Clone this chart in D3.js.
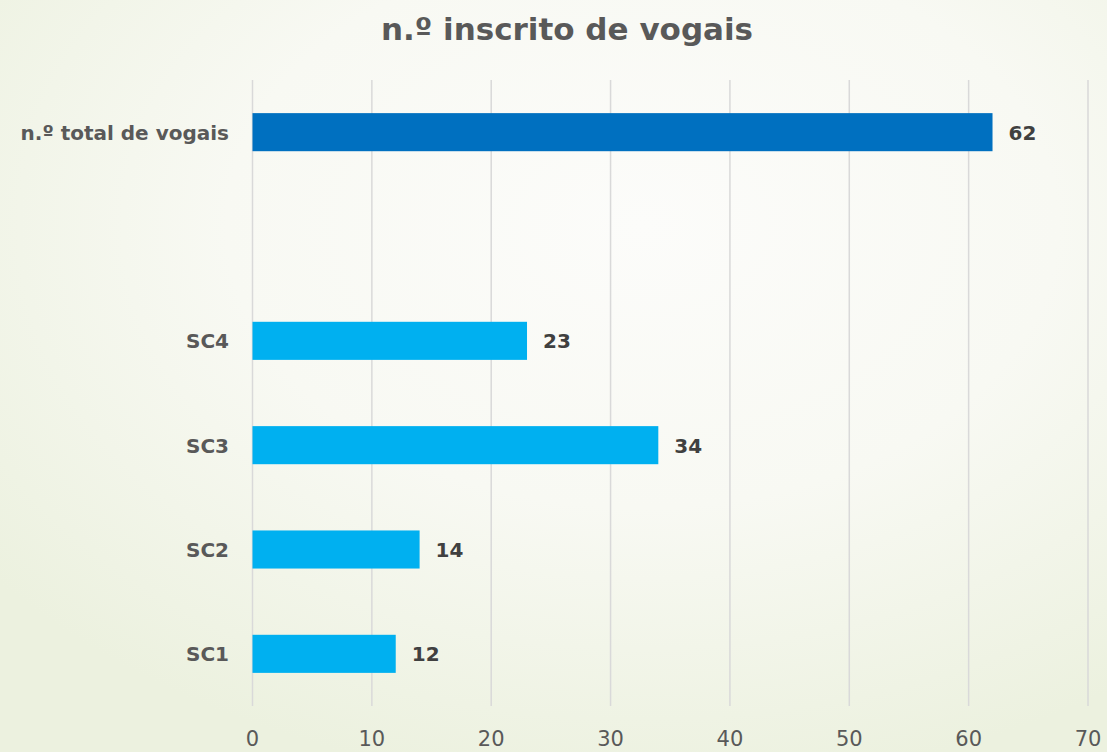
<!DOCTYPE html>
<html>
<head>
<meta charset="utf-8">
<script src="https://cdn.jsdelivr.net/npm/d3@7"></script>
<style>
  html, body { margin: 0; padding: 0; }
  body { width: 1107px; height: 752px; overflow: hidden; }
  svg { display: block; font-family: "DejaVu Sans", sans-serif; }
</style>
</head>
<body>
<svg></svg>
<script>
let width = 1107,
    height = 752;

// chart data
const categories = ["n.º total de vogais", "", "SC4", "SC3", "SC2", "SC1"];
const values = [62, null, 23, 34, 14, 12];
const barColors = ["#0070C0", null, "#00B0F0", "#00B0F0", "#00B0F0", "#00B0F0"];
const xTicks = [0, 10, 20, 30, 40, 50, 60, 70];
const title = "n.º inscrito de vogais";

let svg = d3.select("svg").attr("width", width).attr("height", height);

// background
let defs = svg.append("defs");
let grad = defs.append("radialGradient")
    .attr("id", "bg")
    .attr("cx", "58%").attr("cy", "30%").attr("r", "75%");
grad.append("stop").attr("offset", "0%").attr("stop-color", "#fcfcfa");
grad.append("stop").attr("offset", "50%").attr("stop-color", "#f8f9f3");
grad.append("stop").attr("offset", "100%").attr("stop-color", "#ecf1df");
svg.append("rect").attr("width", width).attr("height", height).attr("fill", "url(#bg)");

const margin = { top: 80, left: 252.5, right: 19, bottom: 46 };

let x = d3.scaleLinear()
    .domain([0, 70])
    .range([margin.left, width - margin.right]);

let y = d3.scaleBand()
    .domain(categories.map((d, i) => i))
    .range([margin.top, height - margin.bottom])
    .paddingInner(0.635)
    .paddingOuter(0.3175);

// gridlines
svg.append("g")
    .selectAll("line")
    .data(xTicks)
    .enter()
    .append("line")
    .attr("x1", (d) => x(d))
    .attr("x2", (d) => x(d))
    .attr("y1", margin.top)
    .attr("y2", height - margin.bottom)
    .attr("stroke", "#d9d9d9")
    .attr("stroke-width", 1.5);

// tick labels
svg.append("g")
    .selectAll("text")
    .data(xTicks)
    .enter()
    .append("text")
    .attr("x", (d) => x(d))
    .attr("y", 746)
    .attr("text-anchor", "middle")
    .attr("font-size", "21px")
    .attr("fill", "#595959")
    .text((d) => d);

const rows = categories.map((c, i) => ({ cat: c, value: values[i], color: barColors[i], i: i }))
    .filter((d) => d.value != null);

// bars
svg.append("g")
    .selectAll("rect")
    .data(rows)
    .enter()
    .append("rect")
    .attr("x", x(0))
    .attr("y", (d) => y(d.i))
    .attr("width", (d) => x(d.value) - x(0))
    .attr("height", y.bandwidth())
    .attr("fill", (d) => d.color);

// value labels
svg.append("g")
    .selectAll("text")
    .data(rows)
    .enter()
    .append("text")
    .attr("x", (d) => x(d.value) + 16)
    .attr("y", (d) => y(d.i) + y.bandwidth() / 2)
    .attr("dy", "0.37em")
    .attr("font-size", "20px")
    .attr("font-weight", "bold")
    .attr("fill", "#404040")
    .text((d) => d.value);

// category labels
svg.append("g")
    .selectAll("text")
    .data(rows)
    .enter()
    .append("text")
    .attr("x", 229)
    .attr("y", (d) => y(d.i) + y.bandwidth() / 2)
    .attr("dy", "0.37em")
    .attr("text-anchor", "end")
    .attr("font-size", "20px")
    .attr("font-weight", "bold")
    .attr("fill", "#595959")
    .text((d) => d.cat);

// title
svg.append("text")
    .attr("x", 567)
    .attr("y", 40)
    .attr("text-anchor", "middle")
    .attr("font-size", "31px")
    .attr("font-weight", "bold")
    .attr("fill", "#595959")
    .text(title);
</script>
</body>
</html>
